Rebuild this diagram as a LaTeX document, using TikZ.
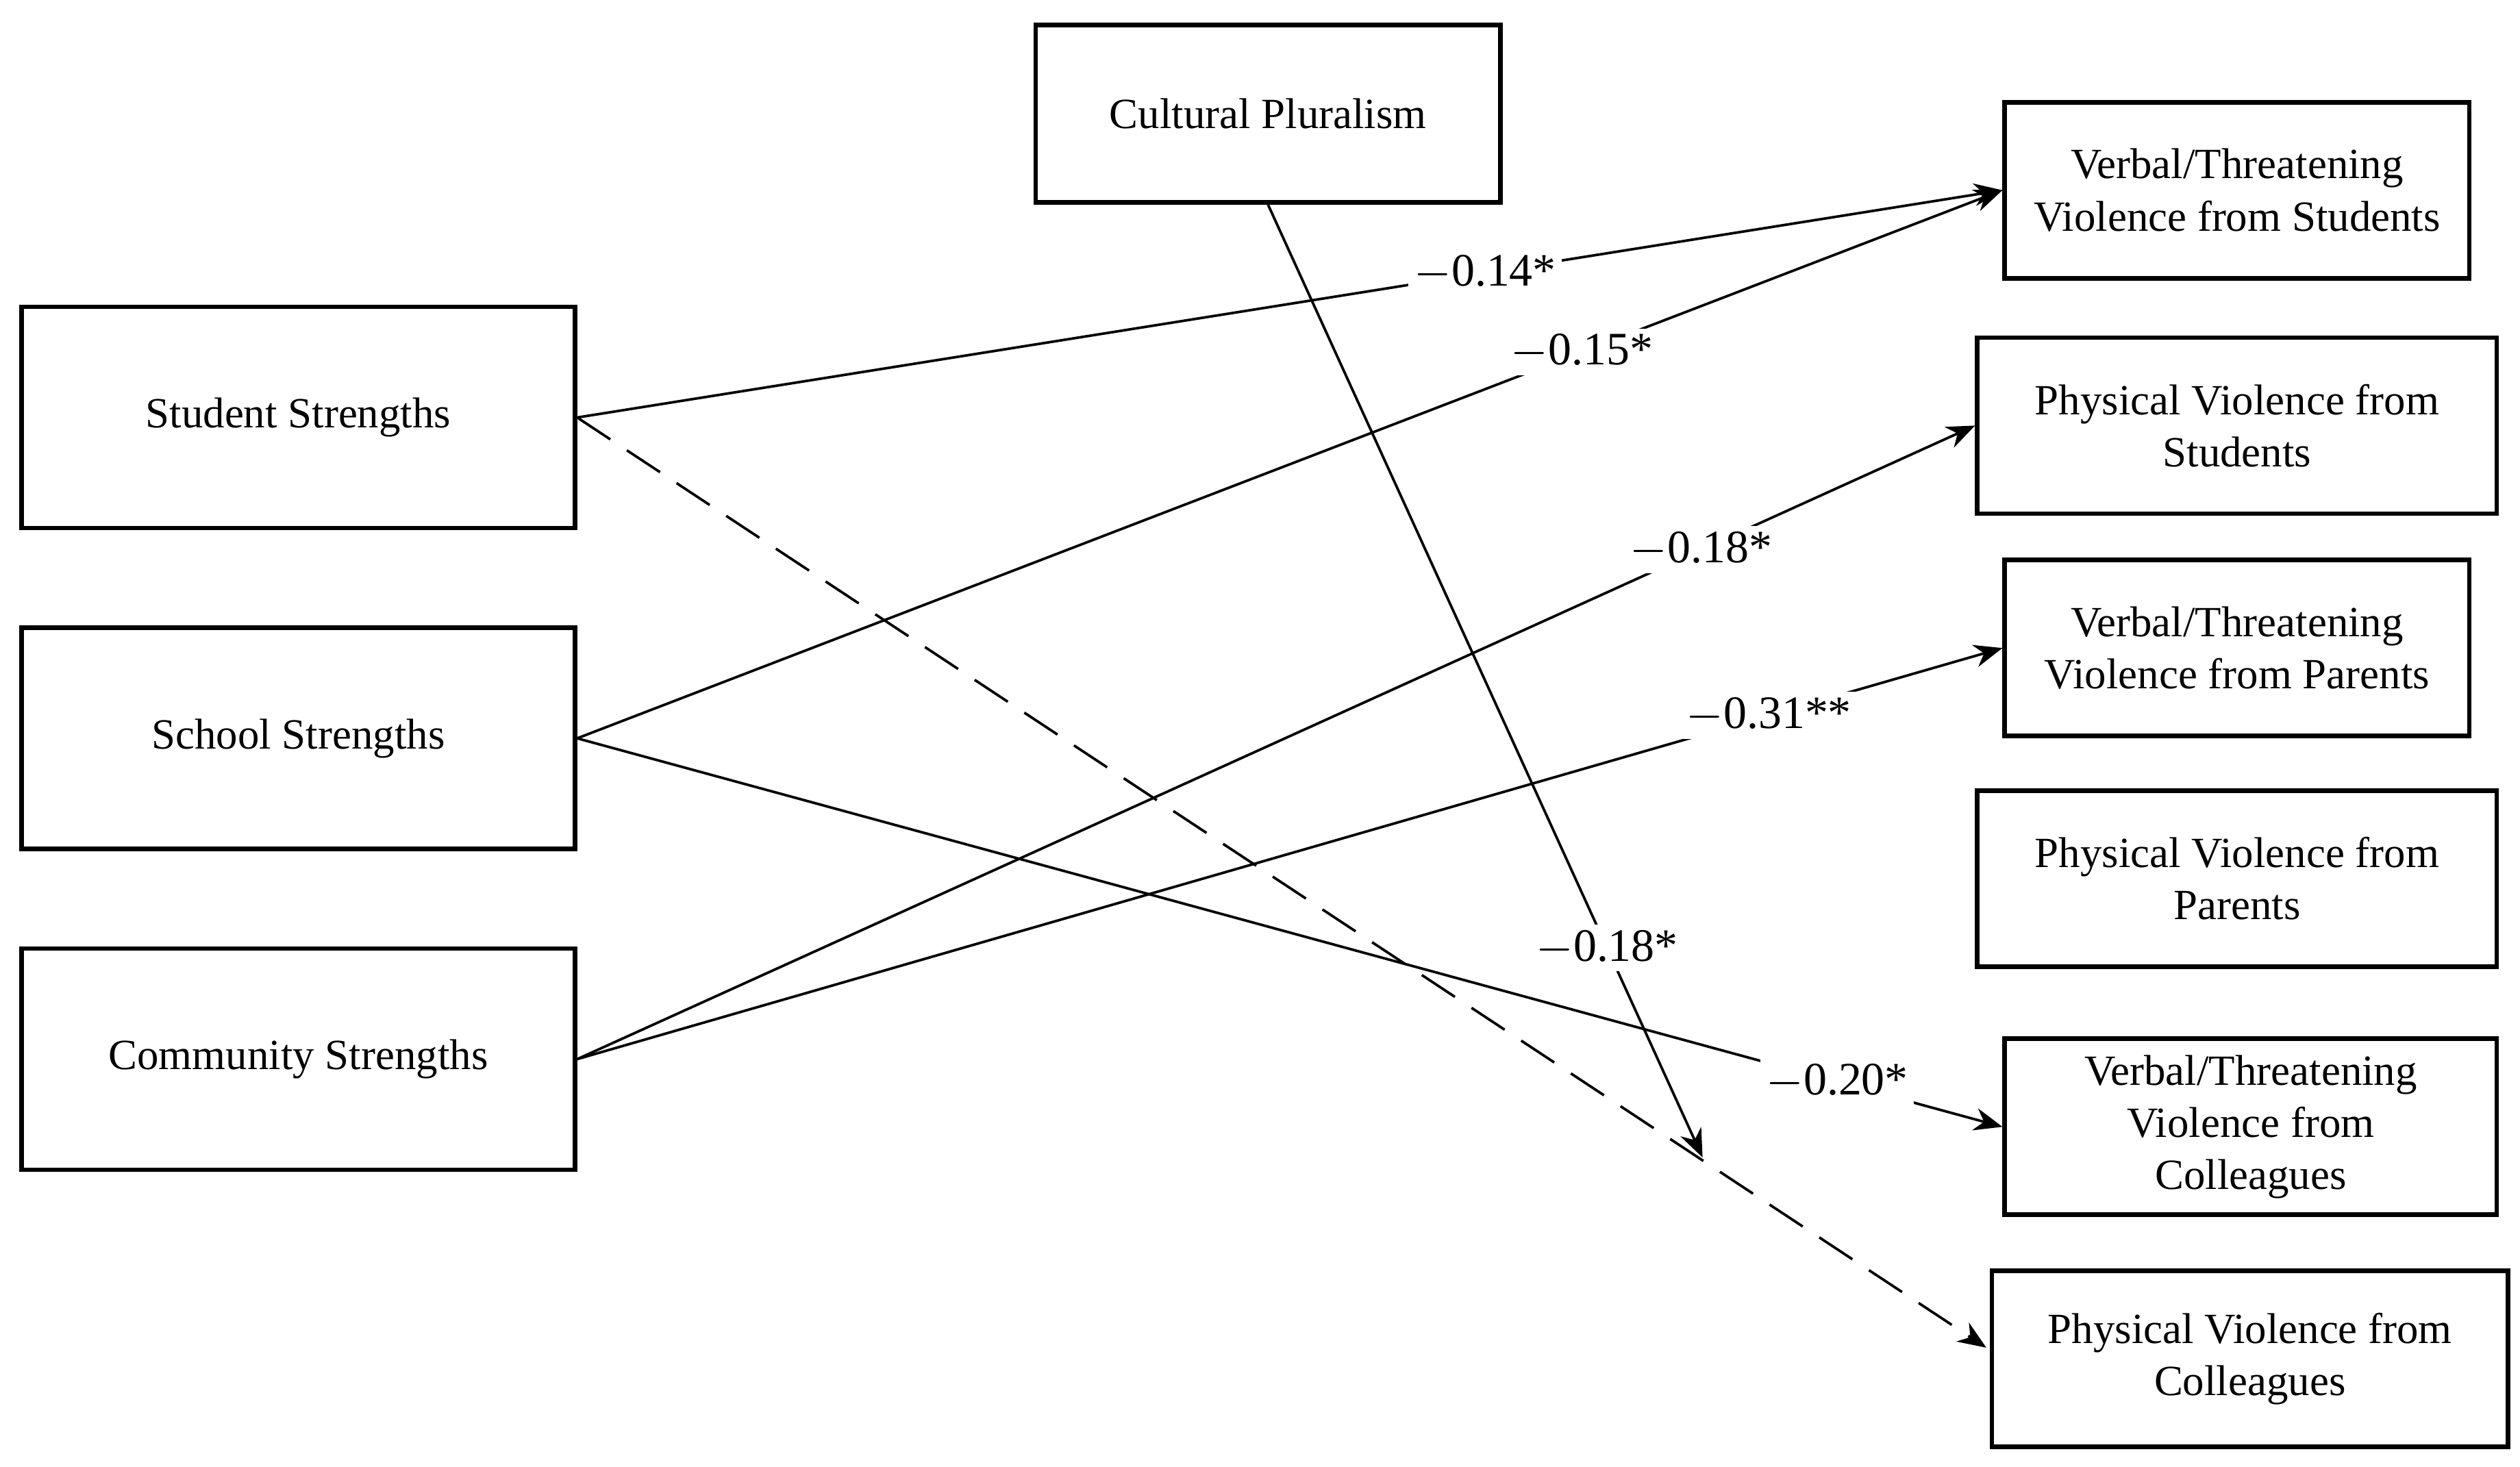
\documentclass[tikz,border=0pt]{standalone}
\usepackage{fontspec}
\setmainfont{Liberation Serif}
\usetikzlibrary{arrows.meta}
\begin{document}
\begin{tikzpicture}[x=0.01cm,y=-0.01cm,
  box/.style={draw,line width=0.8pt,inner sep=0pt,align=center,font=\fontsize{7.6}{9.2}\selectfont},
  edge/.style={line width=0.45pt,-{Stealth[length=5pt,width=4pt]}},
  lab/.style={fill=white,inner sep=1pt,font=\fontsize{8.2}{9}\selectfont}]
\useasboundingbox (0,0) rectangle (1563,910);
\newcommand{\bx}[6]{\node[box,minimum width=#4*0.01cm-0.8pt,minimum height=#5*0.01cm-0.8pt] (#1) at (#2,#3) {#6};}
\bx{cp}{786.5}{70.5}{291}{113}{Cultural Pluralism}
\bx{stu}{185}{259}{346}{140}{Student Strengths}
\bx{sch}{185}{458}{346}{140}{School Strengths}
\bx{com}{185}{657}{346}{140}{Community Strengths}
\bx{vs}{1387.5}{118}{291}{112}{Verbal/Threatening\\Violence from Students}
\bx{ps}{1387.5}{264}{325}{112}{Physical Violence from\\Students}
\bx{vp}{1387.5}{402}{291}{112}{Verbal/Threatening\\Violence from Parents}
\bx{pp}{1387.5}{545}{325}{112}{Physical Violence from\\Parents}
\bx{vc}{1396}{699}{308}{112}{Verbal/Threatening\\Violence from\\Colleagues}
\bx{pc}{1395.5}{843}{323}{112}{Physical Violence from\\Colleagues}
\coordinate (cpend) at (1056,718);
\coordinate (pcin) at (1232,836);
\draw[edge] (stu.east) -- node[lab,pos=0.637]{$-$0.14*} (vs.west);
\draw[edge] (sch.east) -- node[lab,pos=0.705]{$-$0.15*} (vs.west);
\draw[edge] (com.east) -- node[lab,pos=0.804]{$-$0.18*} (ps.west);
\draw[edge] (com.east) -- node[lab,pos=0.836]{$-$0.31**} (vp.west);
\draw[edge] (sch.east) -- node[lab,pos=0.884]{$-$0.20*} (vc.west);
\draw[edge,dash pattern=on 7pt off 3.5pt] (stu.east) -- (pcin);
\draw[edge] (cp.south) -- node[lab,pos=0.78]{$-$0.18*} (cpend);
\end{tikzpicture}
\end{document}
